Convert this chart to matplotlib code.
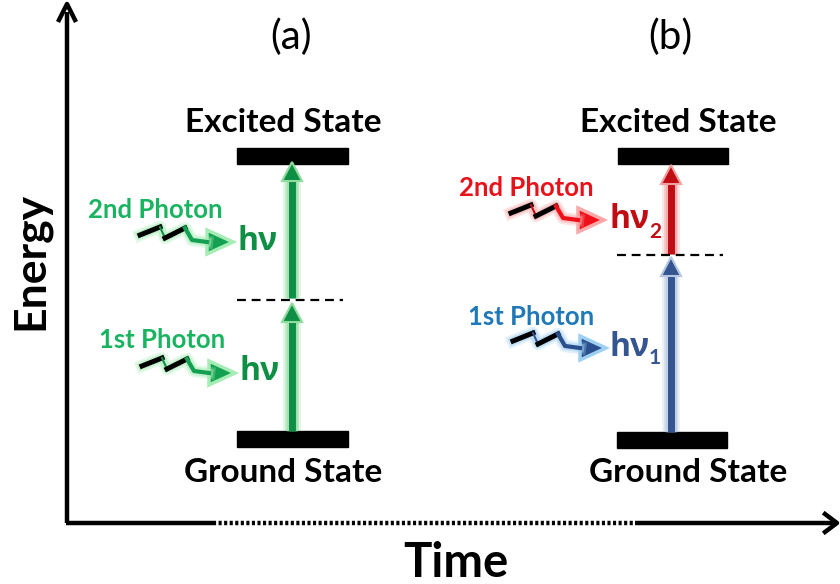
import matplotlib
matplotlib.use('Agg')
import matplotlib.pyplot as plt
from matplotlib.patches import Polygon, Rectangle

plt.rcParams['font.family'] = ['Lato', 'DejaVu Sans']

GREEN = '#0f8f45'
GREEN_TXT = '#19b45f'
RED = '#c00d14'
RED_TXT = '#e8121a'
NAVY = '#34558f'
BLUE_TXT = '#1f78b8'

# levels, all in picture pixels
level_labels = ['Excited State', 'Ground State']
panel_labels = ['(a)', '(b)']
panel_x = [291, 670]
excited_x = [283, 678]
ground_x = [283, 688]
excited_bars = [(237, 348, 148, 164), (618, 728, 148, 164)]
ground_bars = [(237, 348, 431, 447), (617, 727, 432, 448)]
dashes = [(237, 343, 300), (617, 723, 255)]

# vertical arrows: x, y start, y tip, colour
up_arrows = [
    (292, 431, 303, GREEN, '#8fdc9f'),
    (292, 298, 162, GREEN, '#8fdc9f'),
    (671, 432, 257, NAVY, '#b4c6e2'),
    (671, 254, 165, RED, '#f0a0a0'),
]

# squiggle shape relative to its start
squiggle_dx = [0, 20, 25, 45, 52, 67]
squiggle_dy = [0, -8, 3, -7, 5, 7]

# photon: label, label x, label y, squiggle x, squiggle y, nu text, nu x, nu y, colours
photons = [
    ('2nd Photon', 155, 210, 140, 235, 'hν', 238, 242, GREEN_TXT, GREEN, '#14a052', '#a5ecb5'),
    ('1st Photon', 162, 340, 142, 366, 'hν', 240, 371, GREEN_TXT, GREEN, '#14a052', '#a5ecb5'),
    ('2nd Photon', 526, 188, 511, 213, 'hν', 609, 219, RED_TXT, RED, '#f0101a', '#f8a8a8'),
    ('1st Photon', 531, 317, 513, 341, 'hν', 609, 347, BLUE_TXT, NAVY, '#2b4f8c', '#9fd0f2'),
]
subscripts = [('2', 655, 232, RED), ('1', 655, 358, NAVY)]

fig = plt.figure(figsize=(8.4, 5.84), dpi=100)
ax = fig.add_axes([0, 0, 1, 1])
ax.set_xlim(0, 840)
ax.set_ylim(584, 0)
ax.axis('off')

# main axes
ax.plot([67, 67], [523, 12], color='black', lw=3.2, solid_capstyle='butt')
ax.plot([59, 67, 75], [20, 4, 20], color='black', lw=3.2)
ax.plot([65.5, 213], [523, 523], color='black', lw=3.2, solid_capstyle='butt')
ax.plot([213, 635], [523, 523], color='black', lw=3.2, ls=(0, (0.7, 0.55)))
ax.plot([635, 834], [523, 523], color='black', lw=3.2, solid_capstyle='butt')
ax.plot([825, 837, 825], [514, 523, 532], color='black', lw=3.2)

ax.text(30, 261, 'Energy', rotation=90, fontsize=32, fontweight='bold',
        ha='center', va='center')
ax.text(456, 563, 'Time', fontsize=34, fontweight='bold', ha='center', va='center')

for i in range(2):
    ax.text(panel_x[i], 37, panel_labels[i], fontsize=29, ha='center', va='center')
    ax.text(excited_x[i], 122, level_labels[0], fontsize=24, fontweight='bold',
            ha='center', va='center')
    ax.text(ground_x[i], 472, level_labels[1], fontsize=24,
            fontweight='bold', ha='center', va='center')
    for x0, x1, y0, y1 in (excited_bars[i], ground_bars[i]):
        ax.add_patch(Rectangle((x0, y0), x1 - x0, y1 - y0, color='black', zorder=2))
    ax.plot(dashes[i][:2], [dashes[i][2]] * 2, color='black', lw=1.6, ls=(0, (4, 2.6)), zorder=5)

for x, y0, y1, col, glow in up_arrows:
    for w, a in ((13, 0.25), (10, 0.4), (8, 0.6)):
        ax.plot([x, x], [y0, y1 + 14], color=glow, lw=w, alpha=a, solid_capstyle='butt', zorder=3)
    ax.plot([x, x], [y0, y1 + 14], color=col, lw=5, solid_capstyle='butt', zorder=4)
    ax.add_patch(Polygon([(x - 10, y1 + 19), (x, y1), (x + 10, y1 + 19)], closed=True,
                         facecolor=col, edgecolor=glow, lw=1.5, zorder=4))

for label, lx, ly, sx, sy, nu, nx, ny, txtcol, col, headcol, glow in photons:
    ax.text(lx, ly, label, color=txtcol, fontsize=18.5, fontweight='bold', ha='center', va='center')
    xs = [sx + d for d in squiggle_dx]
    ys = [sy + d for d in squiggle_dy]
    ax.plot(xs, ys, color=glow, lw=9, alpha=0.3, solid_joinstyle='round')
    ax.plot(xs, ys, color=glow, lw=6, alpha=0.5, solid_joinstyle='round')
    ax.plot(xs[:2], ys[:2], color='black', lw=3.6)
    ax.plot(xs[1:3], ys[1:3], color=col, lw=1.5)
    ax.plot(xs[2:4], ys[2:4], color='black', lw=3.6)
    ax.plot(xs[3:], ys[3:], color=headcol, lw=3)
    tip = xs[-1] + 26
    ax.add_patch(Polygon([(xs[-1], ys[-1] - 12), (tip, ys[-1]), (xs[-1], ys[-1] + 12)], closed=True,
                         facecolor=headcol, edgecolor=glow, lw=2.5))
    ax.text(nx, ny, nu, color=col, fontsize=23, fontweight='bold', ha='left', va='center',
            fontfamily=['Open Sans', 'DejaVu Sans'])

for s, x, y, col in subscripts:
    ax.text(x, y, s, color=col, fontsize=15, fontweight='bold', ha='center', va='center')

fig.savefig('out.png', dpi=100)
